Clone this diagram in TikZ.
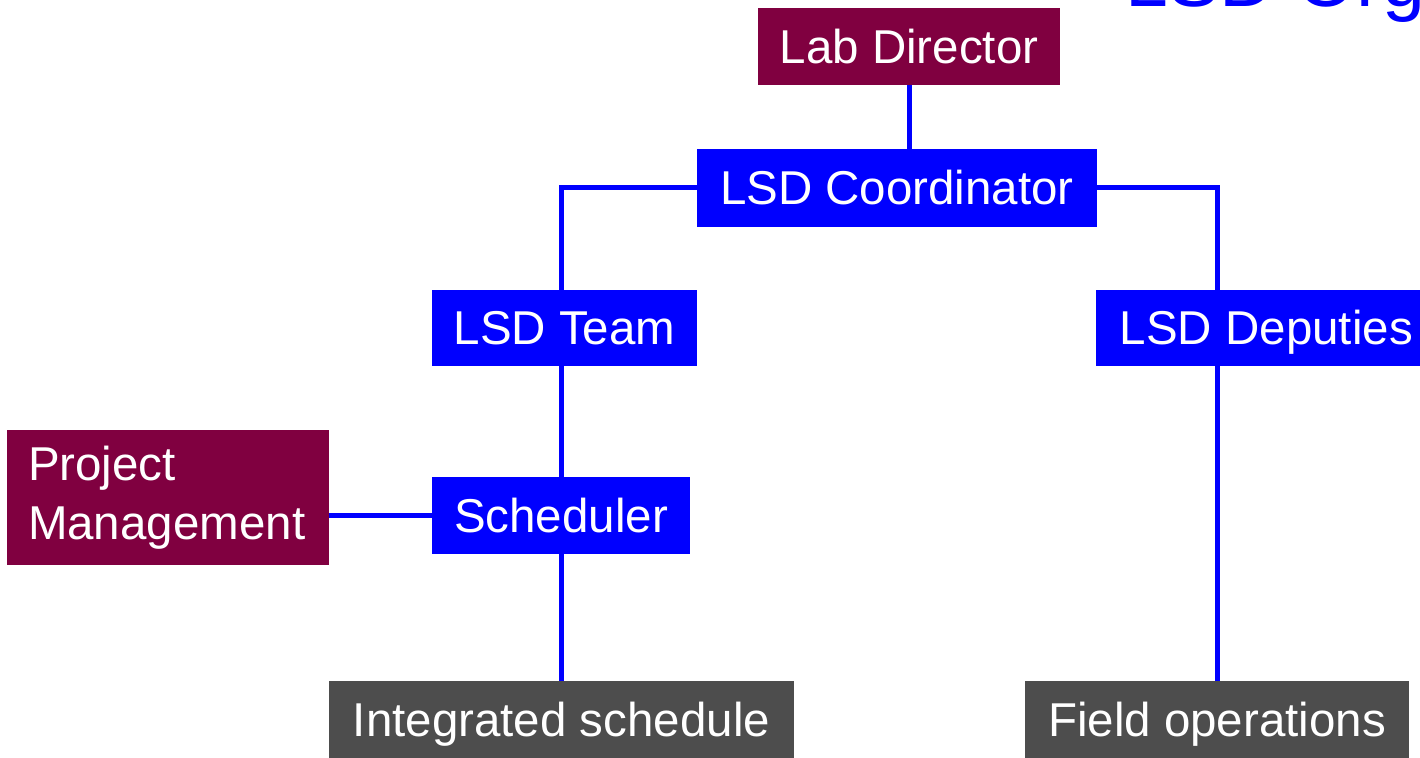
\documentclass[tikz,border=0pt]{standalone}
\usepackage{fontspec}
\setmainfont{Liberation Sans}
\usetikzlibrary{positioning}
\definecolor{lsdmaroon}{RGB}{128,0,64}
\definecolor{lsdblue}{RGB}{0,0,255}
\definecolor{lsdgrey}{RGB}{77,77,77}

\begin{document}
\begin{tikzpicture}[x=0.5pt, y=-0.5pt,
    box/.style={text=white, inner sep=0pt, minimum height=38.5pt,
        text height=17pt, text depth=0pt,
        font=\fontsize{23.75}{29.5}\selectfont},
    link/.style={draw=lsdblue, line width=2.5pt}]

        \useasboundingbox (0, 0) rectangle (1420, 758);
        \clip (0, 0) rectangle (1420, 758);

        % slide title, only its lower edge shows
        \node[anchor=base west, inner sep=0pt, text=lsdblue, font=\fontsize{38.5}{46}\selectfont] (title) at (1125, 6.5) {LSD Organization};

        \node[box, fill=lsdmaroon, minimum width=151pt] (director) at (909, 46.5) {Lab Director};
        \node[box, fill=lsdblue, minimum width=200pt, minimum height=39pt] (coord) at (897, 188) {LSD Coordinator};
        \node[box, fill=lsdblue, minimum width=132.5pt, minimum height=38pt] (team) at (564.5, 328) {LSD Team};
        \node[box, fill=lsdblue, minimum width=170pt, minimum height=38pt, anchor=west] (deputies) at (1096, 328) {LSD Deputies};
        \node[box, fill=lsdblue, minimum width=129pt] (sched) at (561, 515.5) {Scheduler};
        \node[box, fill=lsdmaroon, text height={}, text depth={}, align=left,
              text width=140pt, inner xsep=10.5pt, minimum height=67.5pt] (pm) at (168, 497.5) {Project\\Management};
        \node[box, fill=lsdgrey, minimum width=232.5pt] (intsched) at (561.5, 719.5) {Integrated schedule};
        \node[box, fill=lsdgrey, minimum width=192pt] (fieldops) at (1217, 719.5) {Field operations};

        \draw[link] (director.south) -- (director.south |- coord.north);
        \draw[link] (coord.west) -| (sched.north |- team.north); % left branch
        \draw[link] (coord.east) -| (fieldops.north |- deputies.north); % right branch
        \draw[link] (sched.north |- team.south) -- (sched.north);
        \draw[link] (sched.south) -- (sched.south |- intsched.north);
        \draw[link] (pm.east |- sched.west) -- (sched.west);
        \draw[link] (fieldops.north |- deputies.south) -- (fieldops.north);

\end{tikzpicture}
\end{document}
